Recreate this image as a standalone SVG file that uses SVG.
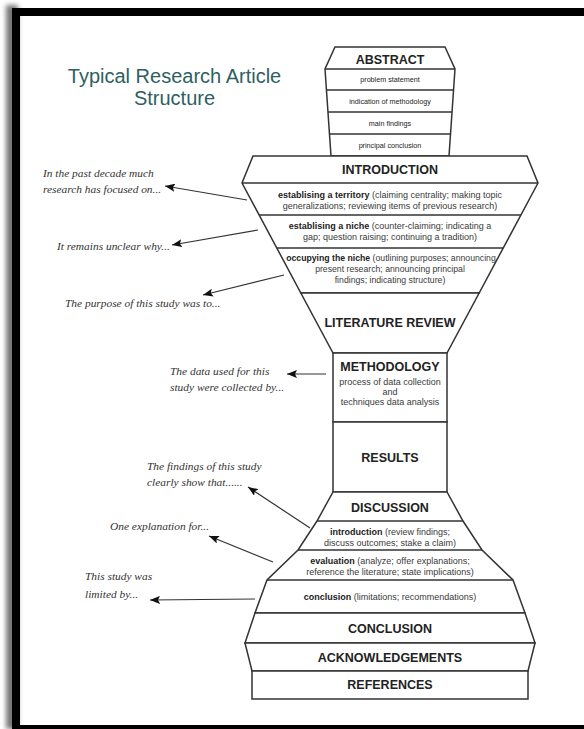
<svg xmlns="http://www.w3.org/2000/svg" width="584" height="729" viewBox="0 0 584 729">
  <defs>
    <filter id="soft" x="-50%" y="-5%" width="200%" height="110%">
      <feGaussianBlur stdDeviation="2.5"/>
    </filter>
    <marker id="head" markerUnits="userSpaceOnUse" markerWidth="11" markerHeight="8" refX="10" refY="4" orient="auto">
      <path d="M0,0 L10,4 L0,8 L2,4 Z" fill="#111"/>
    </marker>
  </defs>
  <style>
    .shape{fill:#fff;stroke:#333;stroke-width:1.5;stroke-linejoin:miter}
    .div{stroke:#333;stroke-width:1.4}
    .lbl{font-family:"Liberation Sans",Arial,sans-serif;font-weight:bold;font-size:12.5px;fill:#222;text-anchor:middle}
    .row{font-family:"Liberation Sans",Arial,sans-serif;font-size:9px;fill:#3a3a3a;text-anchor:middle}
    .tight{font-size:8.7px}
    .abs{font-size:7.2px;fill:#222}
    .b{font-weight:bold;fill:#222}
    .note{font-family:"Liberation Serif","Times New Roman",serif;font-style:italic;font-size:11.4px;fill:#333}
    .arrow{stroke:#333;stroke-width:1.2;fill:none;marker-end:url(#head)}
    .title{font-family:"Liberation Sans",Arial,sans-serif;font-size:20px;fill:#2f5f63;text-anchor:middle}
  </style>

  <rect width="584" height="729" fill="#fff"/>

  <!-- picture frame with soft shadow on the left -->
  <g id="frame">
    <rect x="6" y="5" width="12" height="724" fill="#777" filter="url(#soft)"/>
    <rect x="12" y="8" width="8" height="721" fill="#000"/>
    <rect x="12" y="8" width="572" height="8" fill="#000"/>
    <rect x="12" y="725" width="572" height="4" fill="#000"/>
  </g>

  <g id="title">
    <text class="title" x="174.5" y="83">Typical Research Article</text>
    <text class="title" x="174.5" y="105">Structure</text>
  </g>

  <g id="abstract">
    <polygon class="shape" points="335,47 445,47 455,69 449,156 331,156 325,69"/>
    <line class="div" x1="325" y1="69" x2="455" y2="69"/>
    <line class="div" x1="326.4" y1="90" x2="453.6" y2="90"/>
    <line class="div" x1="327.9" y1="112" x2="452.1" y2="112"/>
    <line class="div" x1="329.5" y1="134" x2="450.5" y2="134"/>
    <text class="lbl" x="390" y="63.5">ABSTRACT</text>
    <text class="row abs" x="390" y="82">problem statement</text>
    <text class="row abs" x="390" y="103.5">indication of methodology</text>
    <text class="row abs" x="390" y="125.5">main findings</text>
    <text class="row abs" x="390" y="147.5">principal conclusion</text>
  </g>

  <g id="introduction">
    <polygon class="shape" points="253,156 527,156 538,183 479.15,293 300.85,293 242,183"/>
    <line class="div" x1="242" y1="183" x2="538" y2="183"/>
    <line class="div" x1="259.1" y1="215" x2="520.9" y2="215"/>
    <line class="div" x1="276.8" y1="248" x2="503.2" y2="248"/>
    <text class="lbl" x="390" y="174">INTRODUCTION</text>
    <text class="row" x="390" y="198"><tspan class="b">establising a territory</tspan> (claiming centrality; making topic</text>
    <text class="row" x="390" y="209">generalizations; reviewing items of previous research)</text>
    <text class="row" x="390" y="229"><tspan class="b">establising a niche</tspan> (counter-claiming; indicating a</text>
    <text class="row" x="390" y="240">gap; question raising; continuing a tradition)</text>
    <text class="row tight" x="391" y="261"><tspan class="b">occupying the niche</tspan> (outlining purposes; announcing</text>
    <text class="row tight" x="390" y="272">present research; announcing principal</text>
    <text class="row tight" x="390" y="282.5">findings; indicating structure)</text>
  </g>

  <g id="literature-review">
    <polygon class="shape" points="300.85,293 479.15,293 447,353 333,353"/>
    <text class="lbl" x="390" y="327">LITERATURE REVIEW</text>
  </g>

  <g id="methodology">
    <rect class="shape" x="333" y="353" width="114" height="69"/>
    <text class="lbl" x="390" y="371">METHODOLOGY</text>
    <text class="row" x="390" y="385">process of data collection</text>
    <text class="row" x="390" y="395">and</text>
    <text class="row" x="390" y="405">techniques data analysis</text>
  </g>

  <g id="results">
    <rect class="shape" x="333" y="422" width="114" height="70"/>
    <text class="lbl" x="390" y="461.5">RESULTS</text>
  </g>

  <g id="discussion">
    <polygon class="shape" points="333,492 447,492 463,521 482,550 513,580 525,613 255,613 267,580 298,550 317,521"/>
    <line class="div" x1="317" y1="521" x2="463" y2="521"/>
    <line class="div" x1="298" y1="550" x2="482" y2="550"/>
    <line class="div" x1="267" y1="580" x2="513" y2="580"/>
    <text class="lbl" x="390" y="511.5">DISCUSSION</text>
    <text class="row" x="390" y="535"><tspan class="b">introduction</tspan> (review findings;</text>
    <text class="row" x="390" y="546">discuss outcomes; stake a claim)</text>
    <text class="row" x="390" y="564"><tspan class="b">evaluation</tspan> (analyze; offer explanations;</text>
    <text class="row" x="390" y="575">reference the literature; state implications)</text>
    <text class="row" x="390" y="599.5"><tspan class="b">conclusion</tspan> (limitations; recommendations)</text>
  </g>

  <g id="conclusion">
    <polygon class="shape" points="255,613 525,613 535,643 245,643"/>
    <text class="lbl" x="390" y="632.5">CONCLUSION</text>
  </g>

  <g id="acknowledgements">
    <polygon class="shape" points="245,643 535,643 528,671 252,671"/>
    <text class="lbl" x="390" y="662">ACKNOWLEDGEMENTS</text>
  </g>

  <g id="references">
    <rect class="shape" x="252" y="671" width="276" height="28"/>
    <text class="lbl" x="390" y="689">REFERENCES</text>
  </g>

  <!-- example phrases beside the sections -->
  <g id="note-territory">
    <text class="note" x="43" y="177">In the past decade much</text>
    <text class="note" x="43" y="193">research has focused on...</text>
  </g>
  <g id="note-niche">
    <text class="note" x="57" y="250">It remains unclear why...</text>
  </g>
  <g id="note-occupy">
    <text class="note" x="65" y="307">The purpose of this study was to...</text>
  </g>
  <g id="note-methods">
    <text class="note" x="170" y="375">The data used for this</text>
    <text class="note" x="170" y="391">study were collected by...</text>
  </g>
  <g id="note-findings">
    <text class="note" x="147" y="470">The findings of this study</text>
    <text class="note" x="147" y="486">clearly show that......</text>
  </g>
  <g id="note-explanation">
    <text class="note" x="110" y="530">One explanation for...</text>
  </g>
  <g id="note-limits">
    <text class="note" x="85" y="580">This study was</text>
    <text class="note" x="85" y="598">limited by...</text>
  </g>

  <g id="connectors">
    <line class="arrow" x1="247" y1="200" x2="165" y2="186"/>
    <line class="arrow" x1="258" y1="230" x2="172" y2="245"/>
    <line class="arrow" x1="284" y1="275" x2="203" y2="295"/>
    <line class="arrow" x1="326" y1="374" x2="287" y2="374"/>
    <line class="arrow" x1="310" y1="528" x2="248" y2="487"/>
    <line class="arrow" x1="273" y1="562" x2="209" y2="536"/>
    <line class="arrow" x1="255" y1="599" x2="150" y2="600"/>
  </g>
</svg>
